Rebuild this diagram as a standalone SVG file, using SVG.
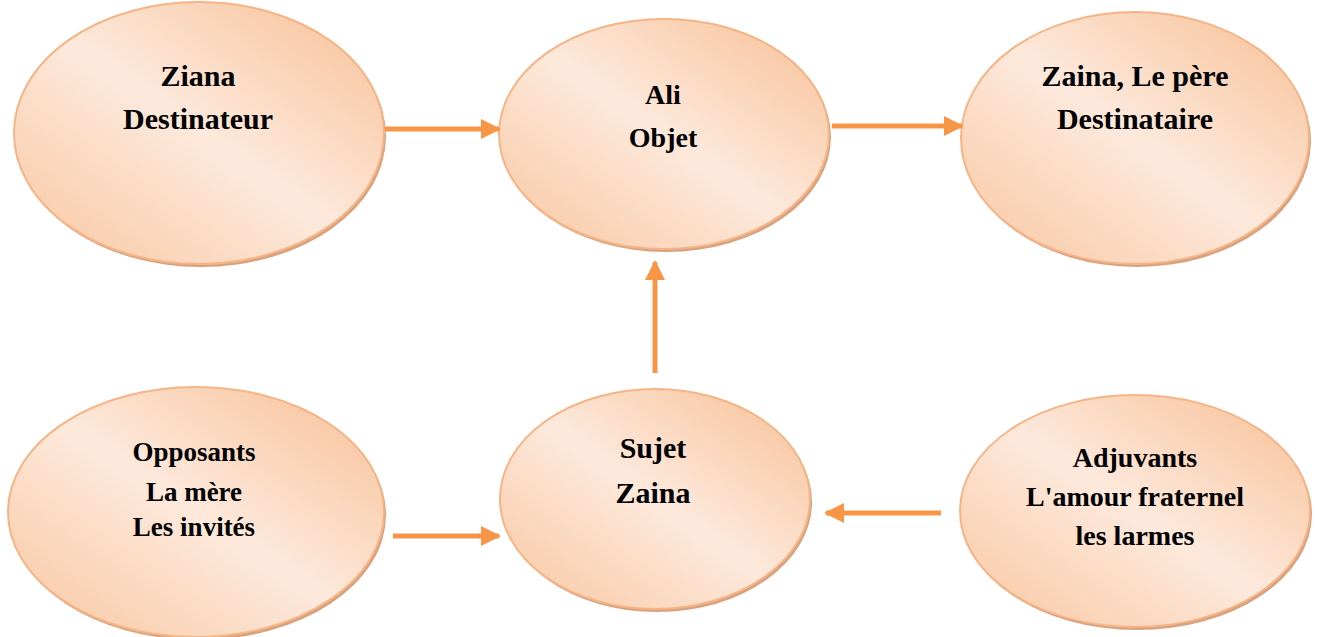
<svg xmlns="http://www.w3.org/2000/svg" width="1318" height="637" viewBox="0 0 1318 637">
<defs>
<linearGradient id="g" x1="1" y1="0" x2="0" y2="1">
<stop offset="0" stop-color="#f7bf94"/>
<stop offset="0.5" stop-color="#fde9dc"/>
<stop offset="1" stop-color="#f8c6a0"/>
</linearGradient>
<marker id="ah" viewBox="0 0 10 10" refX="9" refY="5" markerWidth="4" markerHeight="4" orient="auto" markerUnits="strokeWidth">
<path d="M0,0 L10,5 L0,10 z" fill="#f79646"/>
</marker>
<style>
.sh{fill:#d8a27e;}
.el{fill:url(#g);stroke:#f5b485;stroke-width:2;}
.t{font-family:"Liberation Serif","Times New Roman",serif;font-weight:bold;fill:#000;text-anchor:middle;}
.c{stroke:#f79646;stroke-width:5;fill:none;marker-end:url(#ah);}
</style>
</defs>
<rect width="1318" height="637" fill="#fff"/>
<g id="destinateur">
<ellipse class="sh" cx="201" cy="136" rx="185" ry="131"/>
<ellipse class="el" cx="199" cy="133" rx="185" ry="131"/>
<text class="t" x="198" y="86" font-size="30">Ziana</text>
<text class="t" x="198" y="129" font-size="30">Destinateur</text>
</g>
<g id="objet">
<ellipse class="sh" cx="666" cy="137" rx="165" ry="115"/>
<ellipse class="el" cx="664" cy="134" rx="165" ry="115"/>
<text class="t" x="663" y="104" font-size="28">Ali</text>
<text class="t" x="663" y="147" font-size="28">Objet</text>
</g>
<g id="destinataire">
<ellipse class="sh" cx="1137" cy="141" rx="174" ry="126"/>
<ellipse class="el" cx="1135" cy="138" rx="174" ry="126"/>
<text class="t" x="1135" y="86" font-size="30">Zaina, Le père</text>
<text class="t" x="1135" y="129" font-size="30">Destinataire</text>
</g>
<g id="opposants">
<ellipse class="sh" cx="198" cy="515" rx="188" ry="125"/>
<ellipse class="el" cx="196" cy="512" rx="188" ry="125"/>
<text class="t" x="194" y="461" font-size="27">Opposants</text>
<text class="t" x="194" y="501" font-size="27">La mère</text>
<text class="t" x="194" y="536" font-size="27">Les invités</text>
</g>
<g id="sujet">
<ellipse class="sh" cx="657" cy="502" rx="155" ry="110"/>
<ellipse class="el" cx="655" cy="499" rx="155" ry="110"/>
<text class="t" x="653" y="458" font-size="30">Sujet</text>
<text class="t" x="653" y="503" font-size="30">Zaina</text>
</g>
<g id="adjuvants">
<ellipse class="sh" cx="1137" cy="514" rx="175" ry="116"/>
<ellipse class="el" cx="1135" cy="511" rx="175" ry="116"/>
<text class="t" x="1135" y="467" font-size="28">Adjuvants</text>
<text class="t" x="1135" y="506" font-size="28">L'amour fraternel</text>
<text class="t" x="1135" y="545" font-size="28">les larmes</text>
</g>
<g id="connectors">
<line class="c" x1="385" y1="129" x2="499" y2="129"/>
<line class="c" x1="832" y1="126" x2="962" y2="126"/>
<line class="c" x1="655" y1="373" x2="655" y2="262"/>
<line class="c" x1="393" y1="536" x2="499" y2="536"/>
<line class="c" x1="941" y1="513" x2="826" y2="513"/>
</g>
</svg>
